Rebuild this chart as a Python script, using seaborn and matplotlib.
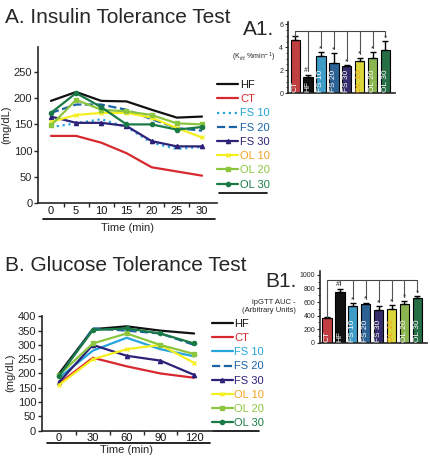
import numpy as np
import pandas as pd
import seaborn as sns
import matplotlib.pyplot as plt
from matplotlib.lines import Line2D

# data
itt_time = [0, 5, 10, 15, 20, 25, 30]
itt_hf = [195, 212, 195, 194, 178, 163, 165]
itt_ct = [128, 128, 115, 95, 68, 60, 52]
itt_fs10 = [145, 152, 160, 145, 115, 103, 107]
itt_fs20 = [172, 188, 188, 178, 160, 143, 138]
itt_fs30 = [165, 153, 153, 147, 118, 108, 108]
itt_ol10 = [155, 168, 172, 172, 163, 143, 125]
itt_ol20 = [148, 197, 178, 175, 168, 152, 150]
itt_ol30 = [172, 210, 183, 150, 150, 140, 145]

gtt_time = [0, 30, 60, 90, 120]
gtt_hf = [200, 355, 365, 350, 340]
gtt_ct = [165, 255, 225, 200, 185]
gtt_fs10 = [185, 280, 325, 285, 260]
gtt_fs20 = [190, 358, 350, 340, 300]
gtt_fs30 = [170, 300, 262, 245, 195]
gtt_ol10 = [160, 250, 285, 300, 237]
gtt_ol20 = [195, 305, 340, 300, 268]
gtt_ol30 = [192, 352, 358, 340, 305]

bar_groups = ["CT", "HF", "FS 10", "FS 20", "FS 30", "OL 10", "OL 20", "OL 30"]
kitt_mean = [4.65, 1.4, 3.2, 2.6, 2.35, 2.8, 3.05, 3.75]
kitt_err = [0.3, 0.2, 0.35, 0.9, 0.1, 0.3, 0.5, 0.8]
auc_mean = [360, 750, 540, 575, 485, 495, 570, 655]
auc_err = [20, 40, 40, 15, 50, 60, 50, 30]

line_groups = ["HF", "CT", "FS 10", "FS 20", "FS 30", "OL 10", "OL 20", "OL 30"]
colors = {"HF": "#111111", "CT": "#d7282f", "FS 10": "#27a4dd", "FS 20": "#1b63a5",
          "FS 30": "#2c2277", "OL 10": "#f6ef1f", "OL 20": "#8cc63f", "OL 30": "#1a7a45"}
text_colors = dict(colors)
text_colors["OL 10"] = "#f1a11e"
styles = {"HF": ("-", None), "CT": ("-", None), "FS 10": (":", None), "FS 20": ("--", None),
          "FS 30": ("-", "^"), "OL 10": ("-", "x"), "OL 20": ("-", "s"), "OL 30": ("-", "o")}

itt = dict(zip(line_groups, [itt_hf, itt_ct, itt_fs10, itt_fs20, itt_fs30, itt_ol10, itt_ol20, itt_ol30]))
gtt = dict(zip(line_groups, [gtt_hf, gtt_ct, gtt_fs10, gtt_fs20, gtt_fs30, gtt_ol10, gtt_ol20, gtt_ol30]))

sns.set_theme(style="ticks")
plt.rcParams['font.family'] = ['Liberation Sans', 'DejaVu Sans']
plt.rcParams['axes.linewidth'] = 1.2

fig = plt.figure(figsize=(4.3, 4.61), dpi=100)


def line_panel(ax, times, data, step, leg_y, under_y, gtt_mode=False):
    for g in line_groups:
        ls, mk = styles[g]
        if gtt_mode and g == "FS 10":
            ls = "-"
        df = pd.DataFrame({"t": times, "v": data[g]})
        sns.lineplot(data=df, x="t", y="v", ax=ax, color=colors[g], linestyle=ls,
                     marker=mk, markersize=3, markeredgewidth=1, lw=1.6,
                     markeredgecolor=colors[g], label=g)
    sns.despine(ax=ax)
    ax.set_xticks(times)
    ax.tick_params(axis="x", length=0, labelsize=8, pad=2, colors="#111111")
    ax.set_xticks(np.array(times[:-1]) + step / 2, minor=True)
    ax.tick_params(axis="x", which="minor", length=3, width=1, direction="out")
    ax.tick_params(axis="y", length=3, width=1, labelsize=8, pad=1)
    ax.set_xlabel("")
    ax.set_ylabel("(mg/dL)", fontsize=8, labelpad=2)
    ax.add_line(Line2D([0.03, 0.99], [-0.105, -0.105], transform=ax.transAxes,
                       color="black", lw=1.2, clip_on=False))
    ax.text(0.5, -0.13, "Time (min)", transform=ax.transAxes, ha="center", va="top", fontsize=8)
    leg = ax.legend(loc="lower left", bbox_to_anchor=(1.0, leg_y), frameon=False,
                    fontsize=8, handlelength=1.9, handletextpad=0.15, labelspacing=0.38,
                    borderaxespad=0, borderpad=0)
    for t in leg.get_texts():
        t.set_color(text_colors[t.get_text()])
    ax.add_line(Line2D([1.01, 1.28], [under_y, under_y], transform=ax.transAxes,
                       color="black", lw=1.2, clip_on=False))


# A. Insulin tolerance test
ax1 = fig.add_axes([0.088, 0.560, 0.417, 0.338])
line_panel(ax1, itt_time, itt, 5, 0.085, 0.064)
ax1.set_xlim(-2.6, 33)
ax1.set_ylim(0, 298)
ax1.set_yticks([0, 50, 100, 150, 200, 250])
fig.text(0.012, 0.962, "A. Insulin Tolerance Test", fontsize=15, va="center", ha="left")

# B. Glucose tolerance test
ax2 = fig.add_axes([0.097, 0.066, 0.395, 0.249])
line_panel(ax2, gtt_time, gtt, 30, 0.02, 0.0, gtt_mode=True)
ax2.set_xlim(-15.5, 135.5)
ax2.set_ylim(0, 402)
ax2.set_yticks(range(0, 401, 50))
fig.text(0.012, 0.425, "B. Glucose Tolerance Test", fontsize=15, va="center", ha="left")


def bar_panel(ax, means, errs, bracket_y, star_pad, ylabel, label_size):
    df = pd.DataFrame({"g": bar_groups, "v": means})
    sns.barplot(data=df, x="g", y="v", hue="g", palette=[colors[g] for g in bar_groups],
                ax=ax, width=0.72, edgecolor="black", linewidth=0.8, legend=False)
    x = np.arange(len(bar_groups))
    ax.errorbar(x, means, yerr=[np.zeros(len(errs)), errs], fmt="none", ecolor="black",
                elinewidth=1, capsize=2, capthick=1)
    sns.despine(ax=ax)
    ax.set_xlim(-0.55, len(bar_groups) - 0.25)
    ax.set_xticks([])
    ax.set_xlabel("")
    ax.tick_params(axis="y", length=2.5, width=0.8, labelsize=5, pad=1)
    ax.set_ylabel(ylabel, fontsize=label_size, rotation=0, ha="right", va="center", labelpad=3)
    # comparison bracket from CT to every other group
    ax.plot([x[0], x[-1]], [bracket_y, bracket_y], color="#444444", lw=0.8, clip_on=False)
    for i in x:
        top = means[i] + errs[i]
        ax.plot([i, i], [top + (star_pad if i > 0 else 0), bracket_y], color="#555555",
                lw=0.8, clip_on=False)
        if i == 1:
            ax.text(i - 0.18, top + star_pad * 0.2, "#", fontsize=5, ha="center", va="bottom")
        elif i > 1:
            ax.text(i, top, "*", fontsize=6, ha="center", va="bottom")
    for i, g in enumerate(bar_groups):
        tc = "#f1a11e" if g == "OL 10" else "white"
        ax.text(i, ax.get_ylim()[1] * 0.015, g, rotation=90, ha="center", va="bottom",
                fontsize=6, color=tc)


ax3 = fig.add_axes([0.670, 0.798, 0.249, 0.154])
ax3.set_ylim(0, 6.2)
bar_panel(ax3, kitt_mean, kitt_err, 5.4, 0.35, "(K$_{itt}$ %min$^{-1}$)", 5)
ax3.set_ylim(0, 6.2)
ax3.set_yticks([0, 2, 4, 6])
ax3.set_yticks(np.arange(0, 6.1, 0.5), minor=True)
ax3.tick_params(axis="y", which="minor", length=1.5, width=0.6)
fig.text(0.565, 0.935, "A1.", fontsize=15, va="center", ha="left")

ax4 = fig.add_axes([0.744, 0.256, 0.249, 0.157])
ax4.set_ylim(0, 1060)
bar_panel(ax4, auc_mean, auc_err, 920, 60, "ipGTT AUC -\n(Arbitrary Units)", 5.5)
ax4.set_ylim(0, 1060)
ax4.set_yticks(range(0, 1001, 200))
ax4.set_yticks(range(0, 1001, 100), minor=True)
ax4.tick_params(axis="y", which="minor", length=1.5, width=0.6)
fig.text(0.618, 0.390, "B1.", fontsize=15, va="center", ha="left")

fig.savefig("out.png", dpi=100)
